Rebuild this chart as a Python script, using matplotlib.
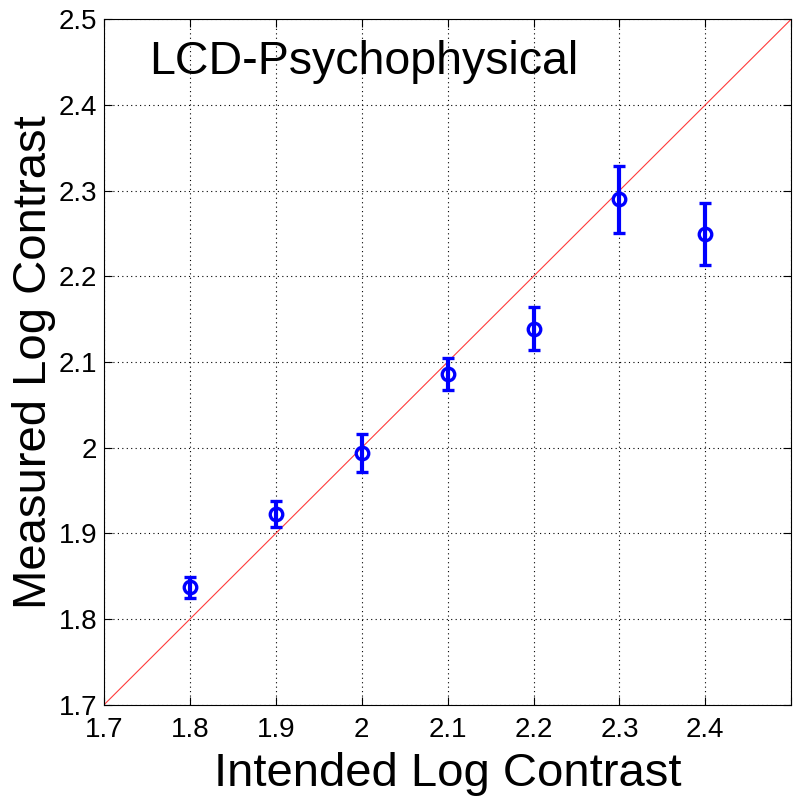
import matplotlib
matplotlib.use("Agg")
import matplotlib.pyplot as plt

plt.rcParams['font.family'] = ['Liberation Sans', 'DejaVu Sans']

intended = [1.8, 1.9, 2.0, 2.1, 2.2, 2.3, 2.4]
measured = [1.837, 1.923, 1.994, 2.086, 2.139, 2.290, 2.249]
errors = [0.012, 0.015, 0.022, 0.019, 0.025, 0.039, 0.036]
ticks = [1.7, 1.8, 1.9, 2.0, 2.1, 2.2, 2.3, 2.4, 2.5]
xtick_labels = ['1.7', '1.8', '1.9', '2', '2.1', '2.2', '2.3', '2.4', '']
ytick_labels = ['1.7', '1.8', '1.9', '2', '2.1', '2.2', '2.3', '2.4', '2.5']
identity = [1.7, 2.5]

fig = plt.figure(figsize=(8, 8), dpi=100)
ax = fig.add_axes([0.13, 0.119, 0.859, 0.857])

ax.plot(identity, identity, color='#ff3b3b', linewidth=0.8, zorder=2)
ax.errorbar(intended, measured, yerr=errors, fmt='o', color='#0000ff',
            markerfacecolor='none', markeredgewidth=2.4, markersize=9,
            elinewidth=3, capsize=4.5, capthick=3, zorder=3)

ax.set_xlim(1.7, 2.5)
ax.set_ylim(1.7, 2.5)
ax.set_xticks(ticks)
ax.set_xticklabels(xtick_labels)
ax.set_yticks(ticks)
ax.set_yticklabels(ytick_labels)
ax.tick_params(direction='in', labelsize=20, length=6, top=True, right=True, width=0.8)
ax.tick_params(axis='x', pad=9)
ax.tick_params(axis='y', pad=5)
ax.grid(True, linestyle=(0, (1, 3)), color='black', linewidth=0.8)
for s in ax.spines.values():
    s.set_linewidth(0.8)

ax.set_xlabel('Intended Log Contrast', fontsize=34, labelpad=6)
ax.set_ylabel('Measured Log Contrast', fontsize=34, labelpad=2)
ax.text(1.752, 2.45, 'LCD-Psychophysical', fontsize=33.5, ha='left', va='center')

fig.savefig('out.png', dpi=100)
